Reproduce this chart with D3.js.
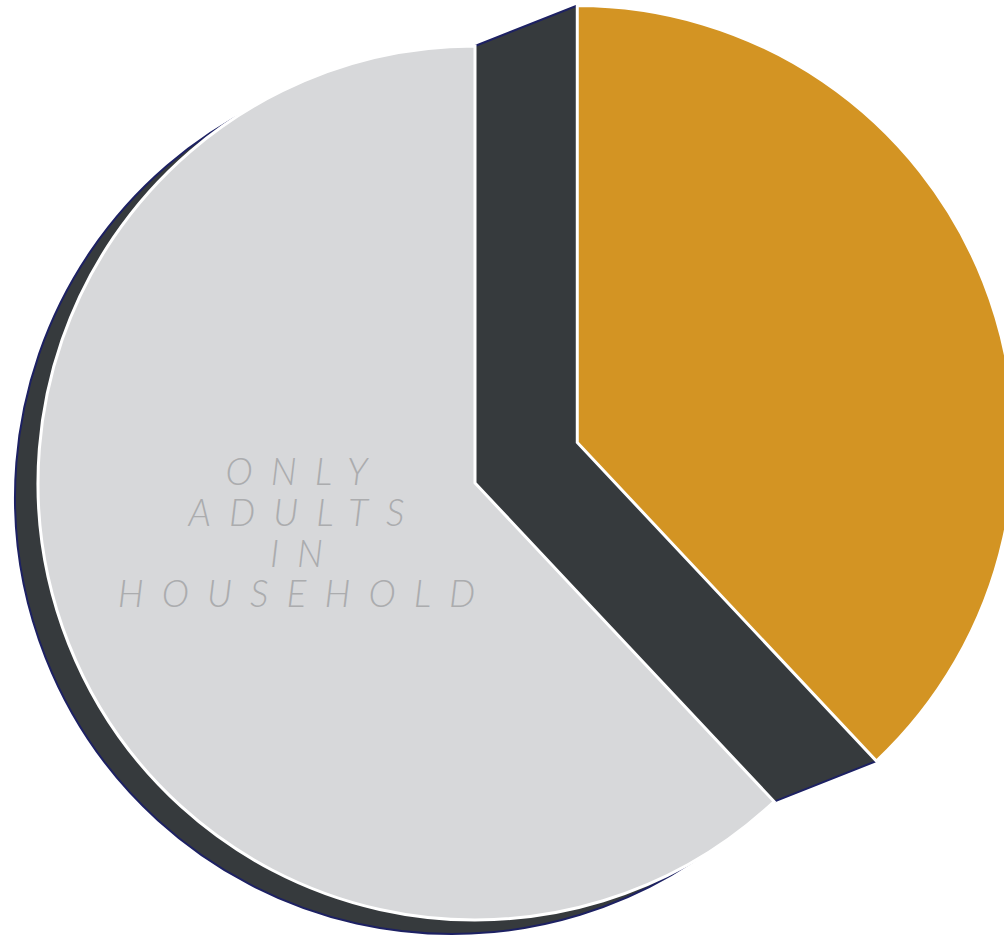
<!DOCTYPE html>
<html>
<head>
<meta charset="utf-8">
<script src="https://cdn.jsdelivr.net/npm/d3@7"></script>
<style>
  html, body { margin: 0; padding: 0; background: #ffffff; }
  svg { display: block; }
</style>
</head>
<body>
<svg id="chart" width="1004" height="936"></svg>
<script>
// Household composition shares
const categories = ["CHILDREN IN HOUSEHOLD", "ONLY ADULTS IN HOUSEHOLD"];
const values = [38, 62];
const sliceColors = ["#d39423", "#d7d8da"];
const labelLines = [[], ["ONLY", "ADULTS", "IN", "HOUSEHOLD"]];
const explode = [110, 0];

const W = 1004, H = 936;
const cx = 475, cy = 483, R = 437;
const depthColor = "#363a3d";
const edgeColor = "#1d2163";
const shadowDx = -23, shadowDy = 14;

const svg = d3.select("#chart");
const g = svg.append("g").attr("transform", `translate(${cx},${cy})`);

const pie = d3.pie().sort(null).value(d => d);
const arcs = pie(values);
const arc = d3.arc().innerRadius(0).outerRadius(R);

function offsetOf(a, dist) {
  const m = (a.startAngle + a.endAngle) / 2;
  return [Math.sin(m) * dist, -Math.cos(m) * dist];
}
function pt(angle, r, off) {
  return [off[0] + Math.sin(angle) * r, off[1] - Math.cos(angle) * r];
}

// drop shadow beneath the main slice
arcs.forEach((a, i) => {
  if (explode[i] !== 0) return;
  g.append("path")
    .attr("d", arc(a))
    .attr("transform", `translate(${shadowDx},${shadowDy})`)
    .attr("fill", depthColor)
    .attr("stroke", edgeColor)
    .attr("stroke-width", 2);
});

// side walls swept from the pie centre to each exploded slice
arcs.forEach((a, i) => {
  if (explode[i] === 0) return;
  const off = offsetOf(a, explode[i]);
  const home = [0, 0];
  const poly = [
    pt(a.startAngle, R, home),
    pt(a.startAngle, R, off),
    off,
    pt(a.endAngle, R, off),
    pt(a.endAngle, R, home),
    home
  ];
  g.append("path")
    .attr("d", "M" + poly.map(p => p.join(",")).join("L") + "Z")
    .attr("fill", depthColor)
    .attr("stroke", edgeColor)
    .attr("stroke-width", 2)
    .attr("stroke-linejoin", "miter");
});

// slices
arcs.forEach((a, i) => {
  const off = offsetOf(a, explode[i]);
  g.append("path")
    .attr("d", arc(a))
    .attr("transform", `translate(${off[0]},${off[1]})`)
    .attr("fill", sliceColors[i])
    .attr("stroke", "#ffffff")
    .attr("stroke-width", 3)
    .attr("stroke-linejoin", "miter");
});

// slice labels
const labelArc = d3.arc().innerRadius(R * 0.437).outerRadius(R * 0.437);
const fontSize = 37, spacing = 18, lineH = 40.7;
arcs.forEach((a, i) => {
  const lines = labelLines[i];
  if (!lines.length) return;
  const off = offsetOf(a, explode[i]);
  const c = labelArc.centroid(a);
  const x = c[0] + off[0] - 1, y = c[1] + off[1] - 7;
  const t = g.append("text")
    .attr("text-anchor", "middle")
    .attr("font-family", "Lato, 'Open Sans', sans-serif")
    .attr("font-style", "italic")
    .attr("font-weight", 300)
    .attr("font-size", fontSize)
    .attr("letter-spacing", spacing)
    .attr("fill", "#abacae");
  lines.forEach((ln, k) => {
    t.append("tspan")
      .attr("x", x + spacing / 2)
      .attr("y", y + (k - (lines.length - 1) / 2) * lineH)
      .text(ln);
  });
});
</script>
</body>
</html>
